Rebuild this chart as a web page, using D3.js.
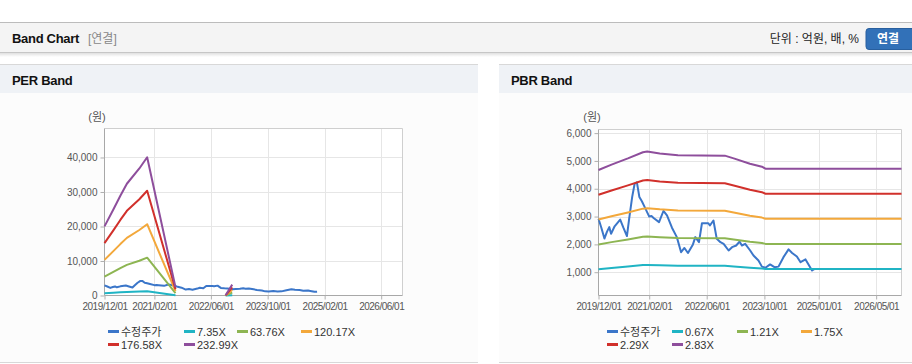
<!DOCTYPE html>
<html>
<head>
<meta charset="utf-8">
<script src="https://cdn.jsdelivr.net/npm/d3@7"></script>
<style>
  body { margin: 0; background: #fff; }
  svg { display: block; font-family: "Liberation Sans", Arial, "Noto Sans CJK KR", sans-serif; }
</style>
</head>
<body>
<svg width="912" height="364"></svg>
<script>
// adjusted price (수정주가), shared by both charts
const priceDates = ['2019/12/01','2019/12/25','2020/01/20','2020/02/10','2020/03/01','2020/03/16','2020/04/15','2020/06/01','2020/06/28','2020/07/28','2020/08/15','2020/09/10','2020/10/01','2020/10/20','2020/11/10','2020/12/01','2020/12/25','2021/02/01','2021/02/20','2021/03/10','2021/04/25','2021/06/01','2021/07/01','2021/08/12','2021/09/22','2021/10/28','2021/11/25','2021/12/25','2022/02/05','2022/02/25','2022/03/28','2022/04/22','2022/06/15','2022/06/28','2022/07/28','2022/08/25','2022/09/25','2022/10/22','2022/12/03','2023/01/01','2023/02/05','2023/03/05','2023/03/25','2023/04/22','2023/06/03','2023/07/01','2023/08/12','2023/09/10','2023/10/10','2023/11/18','2023/12/25','2024/01/28','2024/03/10','2024/04/22','2024/05/22','2024/07/01','2024/08/01','2024/09/12','2024/10/01','2024/11/06','2024/11/28'];
const priceValues = [2920,2600,2210,2450,2620,2380,2650,2890,2600,2300,2900,3700,4180,4230,3700,3550,3340,3000,3020,2950,2800,3200,3040,2600,2260,1720,1870,1690,2000,2260,2080,2760,2760,2680,2860,2200,2080,2020,1780,1900,1960,2100,1960,2020,1780,1600,1420,1200,1160,1280,1180,1200,1540,1820,1690,1565,1360,1460,1320,1060,1120];

// PER band
const perLabels = ['수정주가', '7.35X', '63.76X', '120.17X', '176.58X', '232.99X'];
const perDates = ['2019/12/01','2020/02/15','2020/04/15','2020/06/10','2020/09/25','2020/12/01','2021/08/01','2022/06/01','2022/10/05','2022/12/01'];
const per735   = [632, 786, 911, 1022, 1161, 1264, 76, null, 2, 99];
const per6376  = [5483, 6822, 7906, 8863, 10074, 10967, 657, null, 13, 861];
const per12017 = [10335, 12858, 14901, 16704, 18987, 20669, 1238, null, 24, 1622];
const per17658 = [15186, 18894, 21896, 24545, 27900, 30372, 1819, null, 35, 2384];
const per23299 = [20037, 24930, 28891, 32386, 36812, 40074, 2400, null, 47, 3145];
const perXTicks = ['2019/12/01','2021/02/01','2022/06/01','2023/10/01','2025/02/01','2026/06/01'];
const perYTicks = [0, 10000, 20000, 30000, 40000];

// PBR band
const pbrLabels = ['수정주가', '0.67X', '1.21X', '1.75X', '2.29X', '2.83X'];
const pbrDates = ['2019/12/01','2020/03/20','2020/08/05','2020/12/10','2021/01/15','2021/05/01','2021/10/01','2022/11/01','2023/01/15','2023/06/01','2023/09/10','2023/10/10','2026/12/01'];
const pbr067 = [1107, 1152, 1205, 1258, 1263, 1248, 1233, 1229, 1205, 1160, 1134, 1118, 1118];
const pbr121 = [1999, 2081, 2177, 2271, 2281, 2253, 2226, 2219, 2177, 2095, 2049, 2018, 2018];
const pbr175 = [2891, 3010, 3148, 3285, 3299, 3259, 3220, 3210, 3148, 3029, 2963, 2919, 2919];
const pbr229 = [3783, 3939, 4120, 4298, 4317, 4264, 4214, 4200, 4120, 3964, 3877, 3820, 3820];
const pbr283 = [4675, 4868, 5091, 5312, 5335, 5269, 5207, 5190, 5091, 4899, 4791, 4720, 4720];
const pbrXTicks = ['2019/12/01','2021/02/01','2022/06/01','2023/10/01','2025/01/01','2026/05/01'];
const pbrYTicks = [1000, 2000, 3000, 4000, 5000, 6000];

const seriesColors = ['#3b76c9', '#20b4c4', '#8db552', '#f3a83b', '#d1302b', '#8e4e9c'];
const xStart = '2019/12/01', xEnd = '2026/12/01';

const parse = d3.timeParse('%Y/%m/%d');
const svg = d3.select('svg');

// ---- page chrome ----
svg.append('rect').attr('width', 912).attr('height', 364).attr('fill', '#fff');

const defs = svg.append('defs');
const shadow = defs.append('linearGradient').attr('id', 'shadow').attr('x1', 0).attr('y1', 0).attr('x2', 0).attr('y2', 1);
shadow.append('stop').attr('offset', 0).attr('stop-color', '#000').attr('stop-opacity', 0.12);
shadow.append('stop').attr('offset', 1).attr('stop-color', '#000').attr('stop-opacity', 0);

svg.append('rect').attr('x', 0).attr('y', 22).attr('width', 912).attr('height', 31).attr('fill', '#f4f4f4');
svg.append('line').attr('x1', 0).attr('x2', 912).attr('y1', 22.5).attr('y2', 22.5).attr('stroke', '#bcbcbc');
svg.append('line').attr('x1', 0).attr('x2', 912).attr('y1', 52.5).attr('y2', 52.5).attr('stroke', '#c6c6c6');
svg.append('rect').attr('x', 0).attr('y', 53).attr('width', 912).attr('height', 4).attr('fill', 'url(#shadow)');

svg.append('text').attr('x', 12).attr('y', 43).attr('font-size', 13).attr('font-weight', 'bold')
  .attr('fill', '#111').attr('letter-spacing', -0.3).text('Band Chart');
svg.append('text').attr('x', 88).attr('y', 43).attr('font-size', 12).attr('fill', '#888').text('[연결]');
svg.append('text').attr('x', 859).attr('y', 43).attr('font-size', 12).attr('fill', '#222')
  .attr('text-anchor', 'end').text('단위 : 억원, 배, %');

const btn = svg.append('g');
btn.append('rect').attr('x', 866).attr('y', 28.5).attr('width', 52).attr('height', 21).attr('rx', 3)
  .attr('fill', '#3271b8').attr('stroke', '#285f9e');
btn.append('text').attr('x', 888).attr('y', 43).attr('font-size', 12).attr('font-weight', 'bold')
  .attr('fill', '#fff').attr('text-anchor', 'middle').text('연결');

const panels = [
  { x: 0, w: 478, title: 'PER Band' },
  { x: 499, w: 413, title: 'PBR Band' }
];
panels.forEach(p => {
  const g = svg.append('g');
  g.append('rect').attr('x', p.x).attr('y', 64).attr('width', p.w).attr('height', 298).attr('fill', '#fcfcfc');
  g.append('rect').attr('x', p.x).attr('y', 64).attr('width', p.w).attr('height', 29).attr('fill', '#eff2f6');
  g.append('line').attr('x1', p.x).attr('x2', p.x + p.w).attr('y1', 64.5).attr('y2', 64.5).attr('stroke', '#d8d8d8');
  g.append('line').attr('x1', p.x).attr('x2', p.x + p.w).attr('y1', 362.5).attr('y2', 362.5).attr('stroke', '#d8d8d8');
  g.append('text').attr('x', p.x + 12).attr('y', 85).attr('font-size', 13).attr('font-weight', 'bold')
    .attr('fill', '#111').attr('letter-spacing', -0.3).text(p.title);
});

// ---- chart ----
const drawBand = (opts) => {
  const { left, right, top, bottom, yDomain, xTicks, yTicks, dates, bands, labels, legendX, unitX } = opts;
  const g = svg.append('g');

  const x = d3.scaleTime().domain([parse(xStart), parse(xEnd)]).range([left, right]);
  const y = d3.scaleLinear().domain(yDomain).range([bottom, top]);

  g.append('rect').attr('x', left).attr('y', top).attr('width', right - left).attr('height', bottom - top)
    .attr('fill', '#fff');

  // grid
  g.selectAll('.vgrid').data(xTicks.slice(1)).join('line')
    .attr('x1', d => Math.round(x(parse(d))) + 0.5).attr('x2', d => Math.round(x(parse(d))) + 0.5)
    .attr('y1', top).attr('y2', bottom).attr('stroke', '#e6e6e6');
  g.selectAll('.hgrid').data(yTicks.filter(v => v > yDomain[0])).join('line')
    .attr('x1', left).attr('x2', right)
    .attr('y1', d => Math.round(y(d)) + 0.5).attr('y2', d => Math.round(y(d)) + 0.5)
    .attr('stroke', '#e6e6e6');

  // frame
  g.append('path').attr('d', `M${left},${top}H${right}V${bottom}`).attr('fill', 'none').attr('stroke', '#cfcfcf');
  g.append('path').attr('d', `M${left},${top}V${bottom}H${right}`).attr('fill', 'none').attr('stroke', '#a8a8a8');

  const xAxis = g.append('g').attr('transform', `translate(0,${bottom})`)
    .call(d3.axisBottom(x).tickValues(xTicks.map(parse)).tickFormat(d3.timeFormat('%Y/%m/%d'))
      .tickSize(4).tickPadding(3));
  const yAxis = g.append('g').attr('transform', `translate(${left},0)`)
    .call(d3.axisLeft(y).tickValues(yTicks).tickFormat(d3.format(',')).tickSize(4).tickPadding(3));
  [xAxis, yAxis].forEach(a => {
    a.select('.domain').remove();
    a.selectAll('.tick line').attr('stroke', '#b0b0b0');
    a.selectAll('.tick text').attr('fill', '#555').attr('font-size', 10)
      .attr('font-family', '"Liberation Sans", Arial, sans-serif');
  });
  xAxis.selectAll('.tick text').attr('letter-spacing', -0.5);

  g.append('text').attr('x', unitX).attr('y', 121).attr('font-size', 11).attr('fill', '#555')
    .attr('text-anchor', 'middle').text('(원)');

  const line = d3.line()
    .defined(d => d.v != null)
    .x(d => x(d.date))
    .y(d => y(d.v));

  const series = [
    { label: labels[0], pts: priceDates.map((d, i) => ({ date: parse(d), v: priceValues[i] })) }
  ].concat(bands.map((vals, k) => ({
    label: labels[k + 1],
    pts: dates.map((d, i) => ({ date: parse(d), v: vals[i] }))
  })));

  g.selectAll('.series').data(series).join('path')
    .attr('fill', 'none')
    .attr('stroke', (d, i) => seriesColors[i])
    .attr('stroke-width', 2)
    .attr('stroke-linejoin', 'round')
    .attr('d', d => line(d.pts));

  // legend: 4 items on the first row, the rest below
  const rowY = [331, 344];
  const leg = g.selectAll('.leg').data(series).join('g')
    .attr('transform', (d, i) => `translate(${legendX[i % 4]},${rowY[Math.floor(i / 4)]})`);
  leg.append('line').attr('x1', 0).attr('x2', 11).attr('y1', 0.5).attr('y2', 0.5)
    .attr('stroke', (d, i) => seriesColors[i]).attr('stroke-width', 3);
  leg.append('text').attr('x', 13).attr('y', 4.5).attr('font-size', 11).attr('fill', '#333')
    .attr('font-family', '"Liberation Sans", Arial, "Noto Sans CJK KR", sans-serif')
    .text(d => d.label);
};

drawBand({
  left: 104.5, right: 402.5, top: 128.5, bottom: 295.5,
  yDomain: [0, 48400], xTicks: perXTicks, yTicks: perYTicks,
  dates: perDates, bands: [per735, per6376, per12017, per17658, per23299],
  labels: perLabels, legendX: [108, 184, 237, 301], unitX: 97
});

drawBand({
  left: 598.5, right: 901.5, top: 129.5, bottom: 295.5,
  yDomain: [162, 6130], xTicks: pbrXTicks, yTicks: pbrYTicks,
  dates: pbrDates, bands: [pbr067, pbr121, pbr175, pbr229, pbr283],
  labels: pbrLabels, legendX: [607, 672, 737, 801], unitX: 592
});
</script>
</body>
</html>
